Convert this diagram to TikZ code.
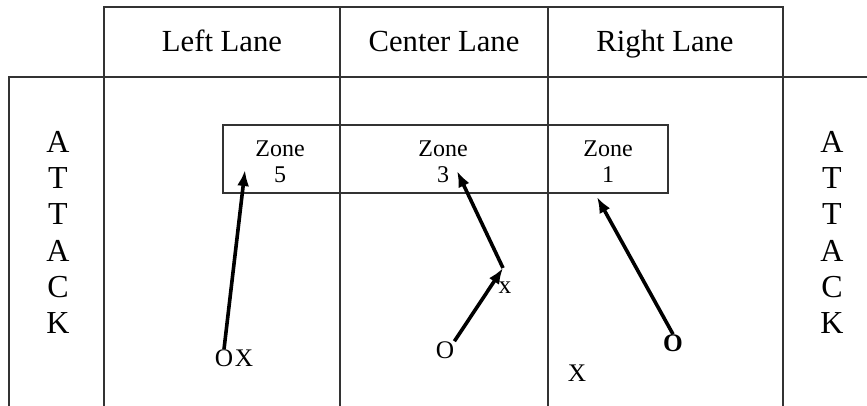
\documentclass[tikz,border=0pt]{standalone}
\usepackage{fontspec}
\setmainfont{Liberation Serif}
\usetikzlibrary{arrows.meta}
\begin{document}
\begin{tikzpicture}[x=0.75pt,y=-0.75pt,
  grid/.style={line width=1.4pt,draw=black!80},
  mv/.style={line width=2.7pt,-{Latex[length=12pt,width=9pt]}},
  head/.style={font=\fontsize{23}{26}\selectfont,anchor=base},
  zonelbl/.style={font=\fontsize{18}{19.5}\selectfont,align=center,inner sep=0pt},
  vert/.style={font=\fontsize{24}{27.2}\selectfont,align=center,inner sep=0pt},
  player/.style={font=\fontsize{19}{22}\selectfont,inner sep=0pt}]
\useasboundingbox (0,0) rectangle (867,406);
% table lines
\draw[grid] (104,406) -- (104,7) -- (783,7) -- (783,406);
\draw[grid] (340,7) -- (340,406);
\draw[grid] (548,7) -- (548,406);
\draw[grid] (9,406) -- (9,77) -- (867,77);
% zone box
\draw[grid] (223,125) rectangle (668,193);
% headers
\node[head] (hl) at (222,52) {Left Lane};
\node[head] (hc) at (444,52) {Center Lane};
\node[head] (hr) at (665,52) {Right Lane};
% attack
\node[vert] (al) at (58,232.5) {A\\T\\T\\A\\C\\K};
\node[vert] (ar) at (832,232.5) {A\\T\\T\\A\\C\\K};
% zones
\node[zonelbl] (z5) at (280,162) {Zone\\5};
\node[zonelbl] (z3) at (443,162) {Zone\\3};
\node[zonelbl] (z1) at (608,162) {Zone\\1};
% players
\node[player] (oL) at (224,358) {O};
\node[player] (xL) at (244,358) {X};
\node[player] (oC) at (445,350) {O};
\node[player] (xC) at (505,288) {x};
\node[player] (xR) at (577,373) {X};
\node[player,font=\fontsize{19}{22}\selectfont\bfseries] (oR) at (673,343) {O};
% arrow targets
\coordinate (t5) at (245,170);
\coordinate (t3) at (457,171);
\coordinate (t1) at (597,197);
\coordinate (c2) at (503,268);
% arrows
\draw[mv] (oL.north) -- (t5);
\draw[mv] (oC.north east) -- (c2);
\draw[mv] (c2) -- (t3);
\draw[mv] (oR.north) -- (t1);
\end{tikzpicture}
\end{document}
